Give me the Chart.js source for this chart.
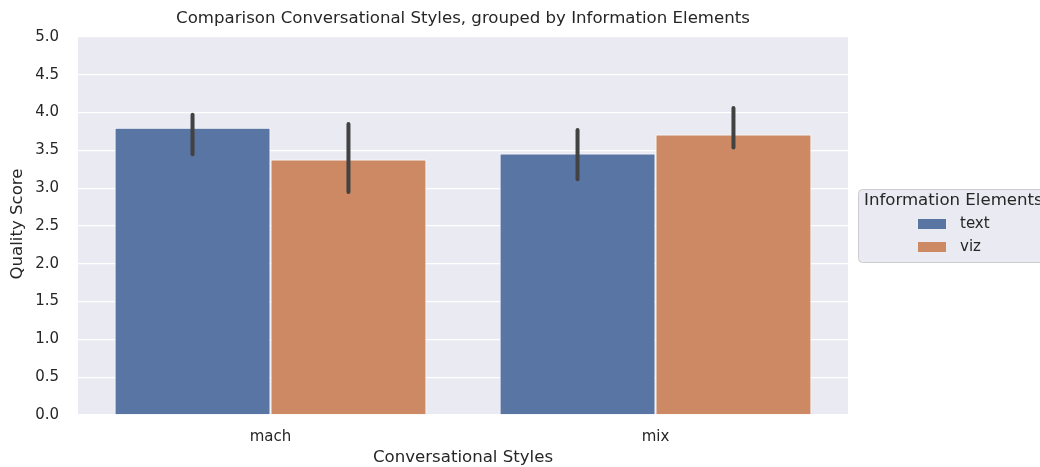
<!DOCTYPE html>
<html>
<head>
<meta charset="utf-8">
<script src="https://cdn.jsdelivr.net/npm/chart.js@4/dist/chart.umd.min.js"></script>
<style>
html,body{margin:0;padding:0;background:#fff;}
canvas{display:block;}
</style>
</head>
<body>
<canvas id="c" width="1040" height="467"></canvas>
<script>
const categories = ["mach", "mix"];
const seriesNames = ["text", "viz"];
const textValues = [3.80, 3.46];
const vizValues = [3.38, 3.71];
const textErrLow = [3.45, 3.12];
const textErrHigh = [3.97, 3.77];
const vizErrLow = [2.95, 3.54];
const vizErrHigh = [3.85, 4.06];
const yTicks = [0, 0.5, 1, 1.5, 2, 2.5, 3, 3.5, 4, 4.5, 5];

const FONT = '"DejaVu Sans", sans-serif';
const colors = ["#5875a4", "#cc8963"];
const errLows = [textErrLow, vizErrLow];
const errHighs = [textErrHigh, vizErrHigh];

const bgPlugin = {
  id: 'bg',
  beforeDraw(chart) {
    const {ctx, chartArea: a} = chart;
    ctx.save();
    ctx.fillStyle = '#eaeaf2';
    ctx.fillRect(a.left, a.top, a.right - a.left, a.bottom - a.top);
    ctx.restore();
  }
};

const errPlugin = {
  id: 'err',
  afterDatasetsDraw(chart) {
    const ctx = chart.ctx;
    const y = chart.scales.y;
    ctx.save();
    ctx.strokeStyle = '#424242';
    ctx.lineWidth = 4;
    ctx.lineCap = 'round';
    chart.data.datasets.forEach((ds, di) => {
      const meta = chart.getDatasetMeta(di);
      meta.data.forEach((bar, i) => {
        ctx.beginPath();
        ctx.moveTo(bar.x, y.getPixelForValue(errLows[di][i]));
        ctx.lineTo(bar.x, y.getPixelForValue(errHighs[di][i]));
        ctx.stroke();
      });
    });
    ctx.restore();
  }
};

const textPlugin = {
  id: 'texts',
  afterDraw(chart) {
    const {ctx, chartArea: a} = chart;
    ctx.save();
    ctx.fillStyle = '#262626';
    ctx.font = '16.6px ' + FONT;
    ctx.textAlign = 'center';
    ctx.textBaseline = 'middle';
    ctx.fillText('Comparison Conversational Styles, grouped by Information Elements', 463, 19);
    ctx.fillText('Conversational Styles', 463, 458);
    ctx.save();
    ctx.translate(18, 224);
    ctx.rotate(-Math.PI / 2);
    ctx.fillText('Quality Score', 0, 0);
    ctx.restore();
    // legend
    const lx = 858, ly = 189, lw = 200, lh = 73;
    ctx.beginPath();
    ctx.roundRect(lx + 0.5, ly + 0.5, lw, lh, 4);
    ctx.fillStyle = '#eaeaf2';
    ctx.fill();
    ctx.strokeStyle = '#cccccc';
    ctx.lineWidth = 1;
    ctx.stroke();
    ctx.fillStyle = '#262626';
    ctx.textAlign = 'left';
    ctx.font = '16.6px ' + FONT;
    ctx.fillText('Information Elements', 864, 201);
    seriesNames.forEach((n, i) => {
      const yy = 224 + i * 23;
      ctx.fillStyle = colors[i];
      ctx.fillRect(918, yy - 5, 28, 10);
      ctx.fillStyle = '#262626';
      ctx.font = '15px ' + FONT;
      ctx.fillText(n, 960, yy);
    });
    ctx.restore();
  }
};

new Chart(document.getElementById('c'), {
  type: 'bar',
  data: {
    labels: categories,
    datasets: [
      {label: seriesNames[0], data: textValues, backgroundColor: colors[0], borderColor: '#ffffff', borderWidth: 1},
      {label: seriesNames[1], data: vizValues, backgroundColor: colors[1], borderColor: '#ffffff', borderWidth: 1}
    ]
  },
  options: {
    responsive: false,
    animation: false,
    devicePixelRatio: 1,
    layout: {padding: {left: 0, right: 192, top: 37, bottom: 0}},
    categoryPercentage: 0.81,
    barPercentage: 1.0,
    plugins: {legend: {display: false}, title: {display: false}, tooltip: {enabled: false}},
    scales: {
      x: {
        grid: {display: false, drawTicks: false},
        border: {display: false},
        ticks: {color: '#262626', font: {family: FONT, size: 15}, padding: 13},
        afterFit(s) { s.height = 52; }
      },
      y: {
        min: 0, max: 5,
        grid: {color: '#ffffff', lineWidth: 1.3, drawTicks: false},
        border: {display: false},
        afterBuildTicks(s) { s.ticks = yTicks.map(v => ({value: v})); },
        ticks: {color: '#262626', font: {family: FONT, size: 15}, padding: 19, callback: v => Number(v).toFixed(1)},
        afterFit(s) { s.width = 78; }
      }
    }
  },
  plugins: [bgPlugin, errPlugin, textPlugin]
});
</script>
</body>
</html>
